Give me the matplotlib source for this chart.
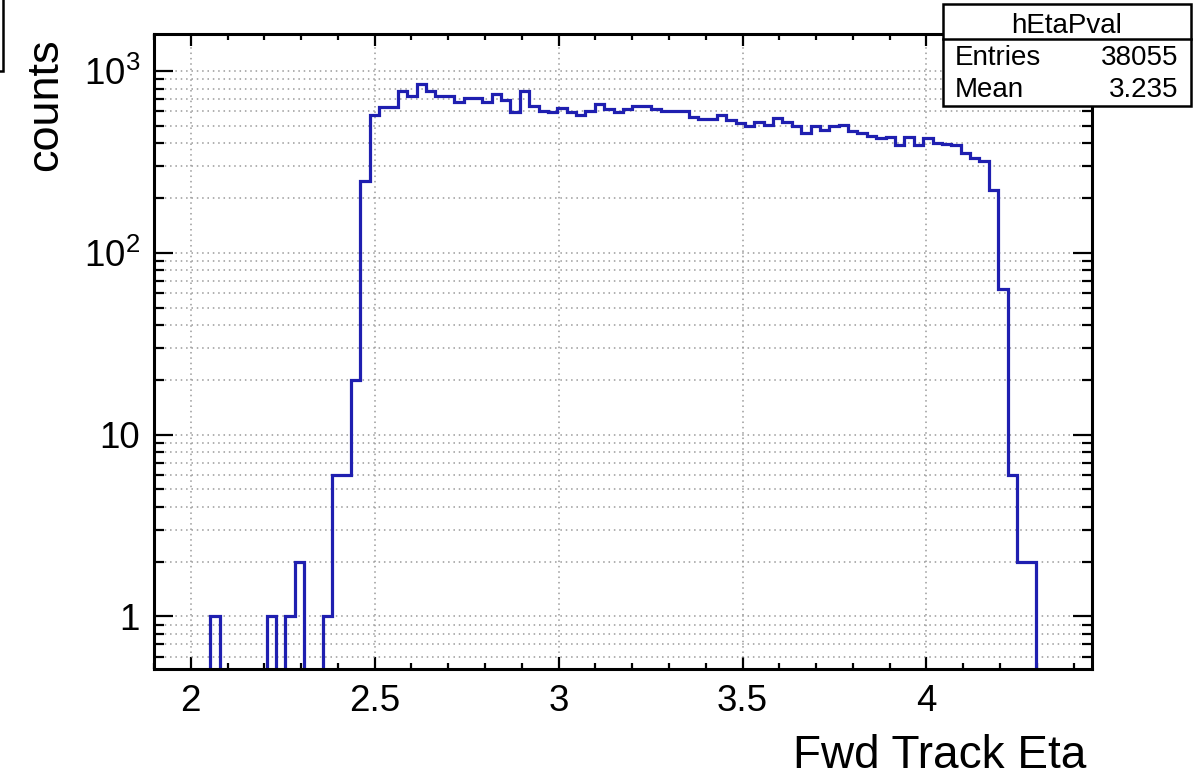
import numpy as np
import matplotlib
matplotlib.use("Agg")
import matplotlib.pyplot as plt
from matplotlib.patches import Rectangle
from matplotlib.lines import Line2D
from matplotlib.ticker import MultipleLocator, LogLocator, NullFormatter, FuncFormatter, FixedLocator

plt.rcParams['font.family'] = ['Liberation Sans', 'DejaVu Sans']
plt.rcParams['mathtext.fontset'] = 'custom'
plt.rcParams['mathtext.rm'] = 'Liberation Sans'

# hEtaPval: 100 bins between 1.9 and 4.45
eta_lo = 1.9
eta_hi = 4.45
n_bins = 100
counts = [
    0, 0, 0, 0, 0, 0, 1, 0, 0, 0,
    0, 0, 1, 0, 1, 2, 0, 0, 1, 6,
    6, 20, 250, 577, 632, 632, 782, 734, 844, 775,
    734, 734, 674, 713, 713, 674, 750, 689, 594, 782,
    641, 607, 594, 629, 594, 577, 607, 655, 620, 594,
    620, 641, 641, 615, 601, 601, 601, 557, 548, 548,
    570, 535, 519, 501, 523, 508, 553, 523, 497, 457,
    501, 477, 497, 504, 467, 457, 442, 426, 433, 394,
    433, 394, 426, 403, 398, 394, 355, 333, 322, 223,
    63, 6, 2, 2, 0, 0, 0, 0, 0, 0,
]
hist_name = "hEtaPval"
entries_text = "38055"
mean_text = "3.235"
x_title = "Fwd Track Eta"
y_title = "counts"

W, H = 1196, 777
ymin, ymax = 0.513, 1600


def px(x, y):
    # pixel position (from top-left) -> figure fraction
    return x / W, 1 - y / H


fig = plt.figure(figsize=(W / 100, H / 100), dpi=100)
ax = fig.add_axes([154 / W, 1 - 669 / H, (1092 - 154) / W, (669 - 34) / H])

edges = np.linspace(eta_lo, eta_hi, n_bins + 1)
vals = np.array(counts, dtype=float)
# empty bins sit on the bottom of the frame
vals = np.where(vals > 0, vals, ymin * 0.5)
ax.stairs(vals, edges, color='#1f1fb0', lw=2.3, zorder=2)

ax.set_yscale('log')
ax.set_xlim(eta_lo, eta_hi)
ax.set_ylim(ymin, ymax)

ax.xaxis.set_major_locator(MultipleLocator(0.5))
ax.xaxis.set_minor_locator(MultipleLocator(0.1))
ax.xaxis.set_major_formatter(FuncFormatter(lambda v, p: '%g' % v))
ax.yaxis.set_major_locator(FixedLocator([1, 10, 100, 1000]))
ax.yaxis.set_minor_locator(LogLocator(base=10, subs=np.arange(2, 10)))
ax.yaxis.set_minor_formatter(NullFormatter())
ax.set_yticklabels(['1', '10', r'$\mathregular{10^{2}}$', r'$\mathregular{10^{3}}$'])

ax.tick_params(axis='both', which='both', direction='in', top=True, right=True,
               width=1.6, colors='black', labelsize=26.5)
ax.tick_params(axis='x', which='major', length=8.6, pad=11)
ax.tick_params(axis='x', which='minor', length=4.5)
ax.tick_params(axis='y', which='major', length=13.5, pad=10)
ax.tick_params(axis='y', which='minor', length=7)

ax.set_axisbelow(True)
ax.grid(True, axis='x', which='major', color='#9a9a9a', linestyle=(0, (1, 2.5)), lw=1.1)
ax.grid(True, axis='y', which='both', color='#9a9a9a', linestyle=(0, (1, 2.5)), lw=1.1)

for s in ax.spines.values():
    s.set_linewidth(2.2)
    s.set_zorder(3)

# axis titles, ROOT style (right / top aligned)
fig.text(*px(1086, 768), x_title, ha='right', va='baseline', fontsize=33)
fig.text(*px(57, 38), y_title, rotation=90, rotation_mode='anchor',
         ha='right', va='baseline', fontsize=32.5)

# stats box
bx0, by0, bx1, by1 = 943, 4, 1191, 106
x0, y1f = px(bx0, by1)
x1, y0f = px(bx1, by0)
fig.patches.append(Rectangle((x0, y1f), x1 - x0, y0f - y1f, transform=fig.transFigure,
                             facecolor='white', edgecolor='black', lw=1.8, zorder=5))
sx0, sy = px(bx0, 39)
sx1, _ = px(bx1, 39)
fig.lines.append(Line2D([sx0, sx1], [sy, sy], transform=fig.transFigure, color='black',
                        lw=1.8, zorder=6))
fig.text(*px(1067, 33), hist_name, ha='center', va='baseline', fontsize=20, zorder=7)
fig.text(*px(955, 65), "Entries", ha='left', va='baseline', fontsize=20, zorder=7)
fig.text(*px(1178, 65), entries_text, ha='right', va='baseline', fontsize=20, zorder=7)
fig.text(*px(955, 97), "Mean", ha='left', va='baseline', fontsize=20, zorder=7)
fig.text(*px(1178, 97), mean_text, ha='right', va='baseline', fontsize=20, zorder=7)

# edge of the title box at the top left corner
tx0, ty0 = px(-60, 71)
tx1, ty1 = px(3, 0)
fig.patches.append(Rectangle((tx0, ty0), tx1 - tx0, ty1 - ty0 + 0.05, transform=fig.transFigure,
                             facecolor='white', edgecolor='black', lw=1.8, zorder=5))

fig.savefig('out.png', dpi=100)
plt.close(fig)
